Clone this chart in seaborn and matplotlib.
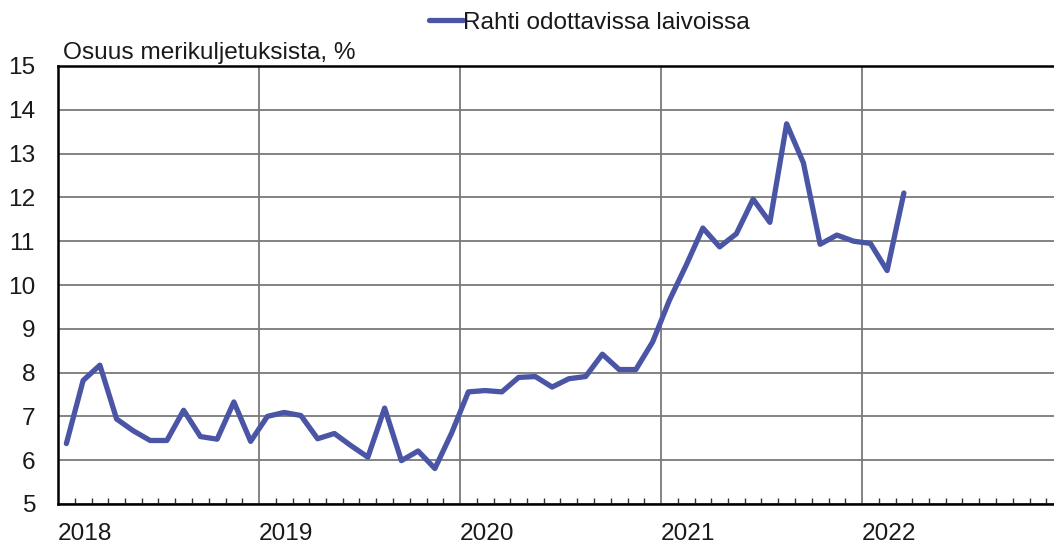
import matplotlib
matplotlib.use("Agg")
import matplotlib.pyplot as plt
import seaborn as sns
import numpy as np
import pandas as pd
from matplotlib.ticker import MultipleLocator, FixedLocator

# Data: monthly share of sea freight waiting on ships (%), Jan 2018 - Mar 2022
start_year = 2018
values = [
    6.38, 7.82, 8.17, 6.94, 6.67, 6.45, 6.45, 7.14, 6.54, 6.48, 7.33, 6.43,   # 2018
    7.00, 7.09, 7.02, 6.49, 6.61, 6.33, 6.07, 7.19, 5.99, 6.21, 5.81, 6.62,   # 2019
    7.56, 7.59, 7.56, 7.89, 7.91, 7.67, 7.86, 7.91, 8.42, 8.07, 8.07, 8.70,   # 2020
    9.65, 10.45, 11.30, 10.87, 11.17, 11.96, 11.43, 13.68, 12.79, 10.93, 11.14, 11.00,  # 2021
    10.95, 10.33, 12.10,                                                       # 2022
]
series_name = "Rahti odottavissa laivoissa"
y_title = "Osuus merikuljetuksista, %"
year_labels = ["2018", "2019", "2020", "2021", "2022"]

months = np.arange(len(values))
df = pd.DataFrame({
    "t": start_year + (months + 0.5) / 12.0,
    "v": values,
    "s": series_name,
})

sns.set_theme(style="white")
plt.rcParams["font.family"] = ["Liberation Sans", "DejaVu Sans"]

FS = 17.6
W, H = 1054, 546
fig = plt.figure(figsize=(W / 100, H / 100), dpi=100)
ax = fig.add_axes([58 / W, 1 - 504 / H, (W - 58) / W, (504 - 66) / H])

sns.lineplot(data=df, x="t", y="v", hue="s", palette=["#4b55a5"],
             linewidth=3.8, ax=ax, legend=True)

ax.set_xlim(2018, 2018 + (W - 58) / 201.0)
ax.set_ylim(5, 15)
ax.yaxis.set_major_locator(MultipleLocator(1))
ax.xaxis.set_major_locator(FixedLocator([2018, 2019, 2020, 2021, 2022]))
ax.set_xticklabels(year_labels)
ax.xaxis.set_minor_locator(MultipleLocator(1 / 12))

ax.grid(True, which="major", axis="both", color="#7a7a7a", linewidth=1.3)
ax.set_axisbelow(True)

for side in ["left", "bottom", "top"]:
    ax.spines[side].set_visible(True)
    ax.spines[side].set_color("black")
    ax.spines[side].set_linewidth(1.8)
ax.spines["right"].set_visible(False)

ax.tick_params(axis="y", which="major", length=0, pad=16.5, labelsize=FS,
               labelcolor="#1a1a1a")
ax.tick_params(axis="x", which="major", length=0, pad=14, labelsize=FS,
               labelcolor="#1a1a1a")
ax.tick_params(axis="x", which="minor", direction="in", length=4, width=1,
               color="#333333", bottom=True)
for lbl in ax.get_xticklabels():
    lbl.set_horizontalalignment("left")

ax.set_xlabel("")
ax.set_ylabel("")

fig.text(63 / W, 1 - 59 / H, y_title, fontsize=FS, color="#1a1a1a",
         ha="left", va="baseline")

leg = ax.legend(loc="center left", bbox_to_anchor=(429 / W, 1 - 23 / H),
                bbox_transform=fig.transFigure, frameon=False,
                fontsize=FS, handlelength=1.39, handletextpad=0.02,
                borderpad=0, borderaxespad=0)
for t in leg.get_texts():
    t.set_color("#1a1a1a")

fig.savefig("out.png", dpi=100)
